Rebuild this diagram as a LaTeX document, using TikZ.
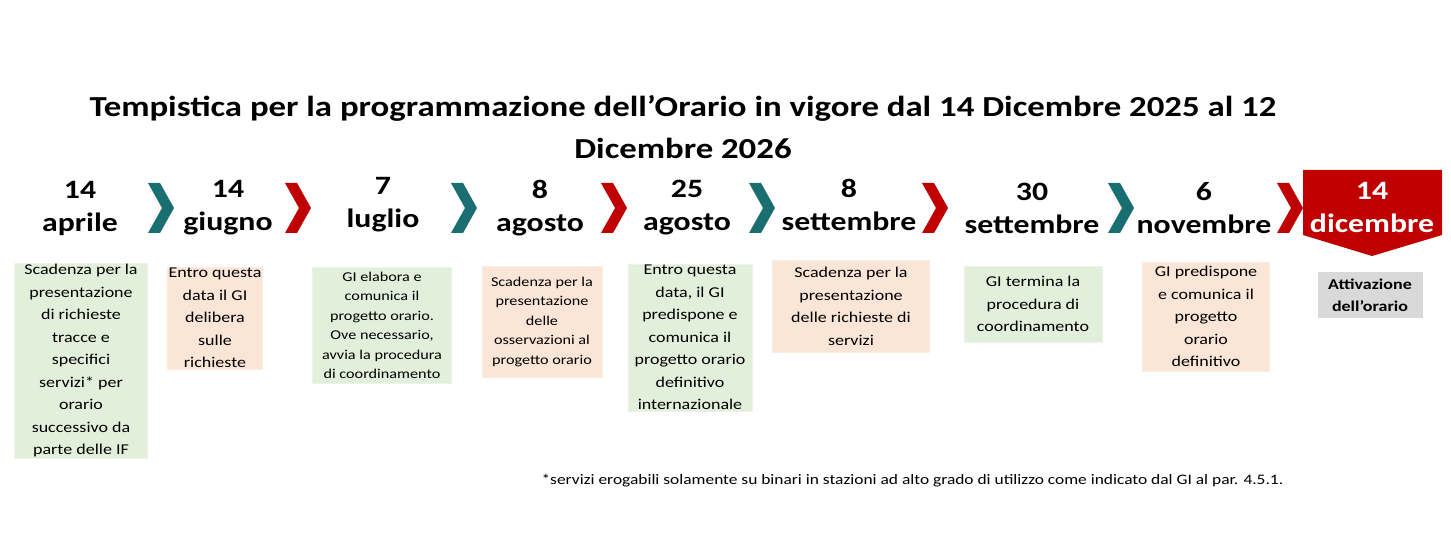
\documentclass[tikz,border=0pt]{standalone}
\usepackage{fontspec}
\setmainfont{Carlito}[FakeStretch=1.2]
\definecolor{teal1}{HTML}{1A6E72}
\definecolor{red1}{HTML}{C00000}
\definecolor{gbox}{HTML}{E2EFDA}
\definecolor{pbox}{HTML}{FBE5D6}
\definecolor{grbox}{HTML}{D9D9D9}
\begin{document}
\begin{tikzpicture}[x=1pt,y=-1pt,
 date/.style={font=\bfseries\fontsize{26.5}{33}\selectfont,align=center},
 desc/.style={font=\fontsize{15}{22.5}\selectfont,align=center,anchor=north,inner sep=1pt},
 gb/.style={desc,fill=gbox,draw=gbox!70!white},
 pb/.style={desc,fill=pbox,draw=pbox!70!white}]
\useasboundingbox (0,0) rectangle (1451,540);
\node[font=\bfseries\fontsize{29}{42}\selectfont,align=center] (title) at (683,127) {Tempistica per la programmazione dell’Orario in vigore dal 14 Dicembre 2025 al 12\\Dicembre 2026};
% red pentagon
\fill[red1] (1303,170) -- (1442,170) -- (1442,235) -- (1372,256) -- (1303,235) -- cycle;
\node[date,text=white] (d9) at (1372,207) {14\\dicembre};
\node[date] (d1) at (80,208) {14\\aprile};
\node[date] (d2) at (228,208) {14\\giugno};
\node[date] (d3) at (383,205) {7\\luglio};
\node[date] (d4) at (540,208) {8\\agosto};
\node[date] (d5) at (687,208) {25\\agosto};
\node[date] (d6) at (849,205) {8\\settembre};
\node[date] (d7) at (1032,208) {30\\settembre};
\node[date] (d8) at (1204,208) {6\\novembre};
\foreach \x/\c in {148/teal1,285/red1,451/teal1,601/red1,749/teal1,922/red1,1108/teal1,1277/red1}
 \fill[\c] (\x,183) -- (\x+12,183) -- (\x+26,208) -- (\x+12,233) -- (\x,233) -- (\x+14,208) -- cycle;
\node[gb,minimum width=133pt,minimum height=195pt] (b1) at (81,263) {Scadenza per la\\presentazione\\di richieste\\tracce e\\specifici\\servizi* per\\orario\\successivo da\\parte delle IF};
\node[pb,minimum width=78pt,minimum height=101pt] (b2) at (215,267) {Entro questa\\data il GI\\delibera\\sulle\\richieste};
\node[gb,minimum width=139pt,minimum height=116pt,font=\fontsize{13.5}{19.5}\selectfont] (b3) at (382,267) {GI elabora e\\comunica il\\progetto orario.\\Ove necessario,\\avvia la procedura\\di coordinamento};
\node[pb,minimum width=120pt,minimum height=111pt,font=\fontsize{13.5}{19.5}\selectfont] (b4) at (542,266) {Scadenza per la\\presentazione\\delle\\osservazioni al\\progetto orario};
\node[gb,minimum width=124pt,minimum height=147pt] (b5) at (690,264) {Entro questa\\data, il GI\\predispone e\\comunica il\\progetto orario\\definitivo\\internazionale};
\node[pb,minimum width=157pt,minimum height=92pt] (b6) at (851,260) {Scadenza per la\\presentazione\\delle richieste di\\servizi};
\node[gb,minimum width=138pt,minimum height=76pt] (b7) at (1033,266) {GI termina la\\procedura di\\coordinamento};
\node[pb,minimum width=127pt,minimum height=109pt] (b8) at (1206,262) {GI predispone\\e comunica il\\progetto\\orario\\definitivo};
\node[desc,fill=grbox,minimum width=105pt,minimum height=46pt,font=\bfseries\fontsize{15}{22}\selectfont] (b9) at (1370,272) {Attivazione\\dell’orario};
\node[font=\fontsize{14.5}{16}\selectfont,anchor=west] (fn) at (538,481) {*servizi erogabili solamente su binari in stazioni ad alto grado di utilizzo come indicato dal GI al par. 4.5.1.};
\end{tikzpicture}
\end{document}
